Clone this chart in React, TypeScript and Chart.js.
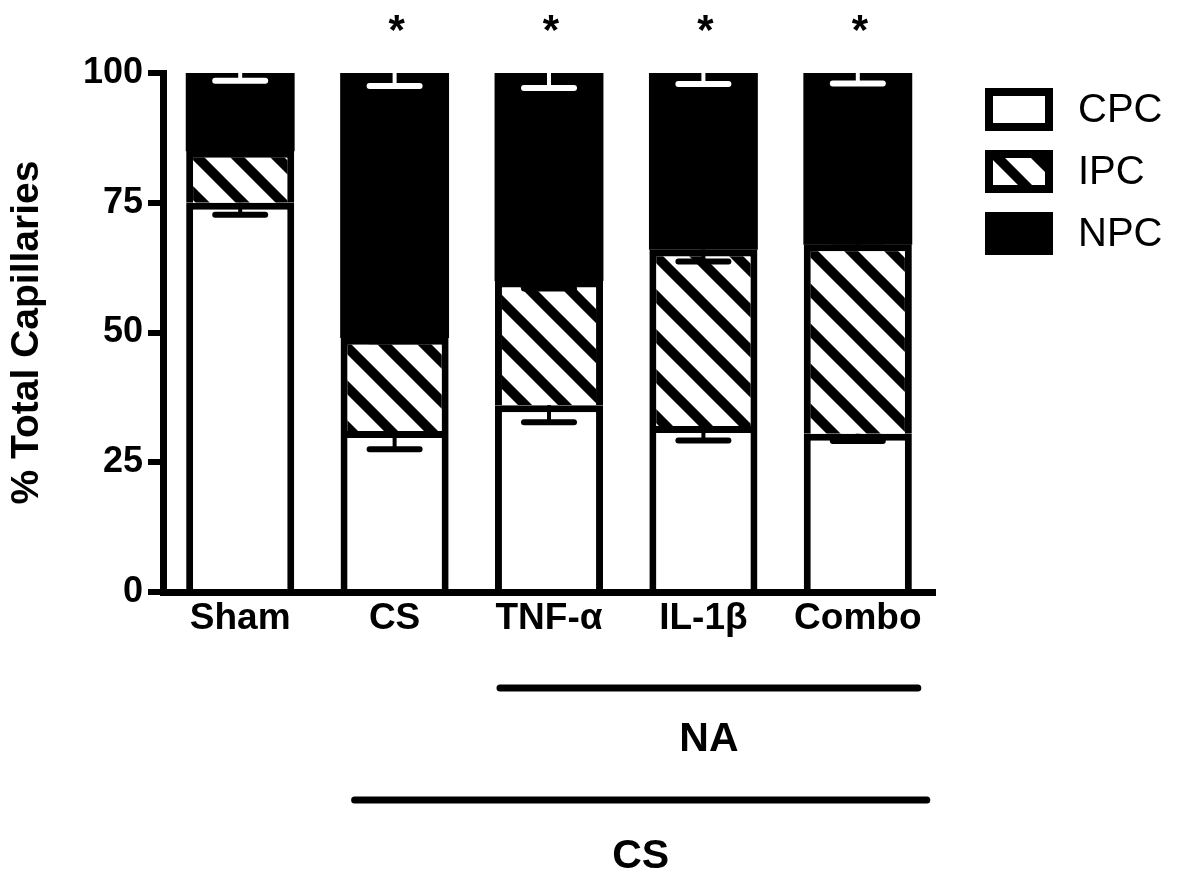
import React, { useEffect, useRef } from 'react';
import { Chart, registerables } from 'chart.js';

Chart.register(...registerables);

// ---- data ----
const categories = ['Sham', 'CS', 'TNF-α', 'IL-1β', 'Combo'];
const seriesLabels = ['CPC', 'IPC', 'NPC'];
const cpcValues = [75, 31, 36, 32, 30.5];
const ipcValues = [10, 18, 24, 34, 36.5];
const npcValues = [15, 51, 40, 34, 33];
const cpcErrors = [2.3, 3.5, 3.3, 2.8, 1.4];
const ipcErrors = [0.6, 0.7, 1.5, 2.3, 0.6];
const npcErrors = [1.5, 2.5, 2.9, 2.1, 2.0];
const significance = ['', '*', '*', '*', '*'];
const yTickStep = 25;
const yMin = 0;
const yMax = 100;
const yTitle = '% Total Capillaries';
const groupLabels = ['NA', 'CS'];
const groupStart = [2, 1];
const groupEnd = [4, 4];

const FONT = "'Liberation Sans', Arial, Helvetica, sans-serif";

function makeHatch(ctx: CanvasRenderingContext2D): CanvasPattern | string {
  const s = 40;
  const c = document.createElement('canvas');
  c.width = s;
  c.height = s;
  const g = c.getContext('2d');
  if (!g) return '#888';
  g.fillStyle = '#fff';
  g.fillRect(0, 0, s, s);
  g.strokeStyle = '#000';
  g.lineWidth = 10;
  for (let k = -1; k <= 1; k++) {
    g.beginPath();
    g.moveTo(-s, -s + k * s);
    g.lineTo(2 * s, 2 * s + k * s);
    g.stroke();
  }
  return ctx.createPattern(c, 'repeat') || '#888';
}

const errorBarPlugin = {
  id: 'errorBars',
  afterDatasetsDraw(chart: any) {
    const ctx = chart.ctx as CanvasRenderingContext2D;
    const yScale = chart.scales.y;
    const xScale = chart.scales.x;
    const seriesVals = [cpcValues, ipcValues, npcValues];
    const errs = [cpcErrors, ipcErrors, npcErrors];
    const colors = ['#000', '#000', '#fff'];
    ctx.save();
    categories.forEach((_, i) => {
      let top = 0;
      for (let d = 0; d < seriesVals.length; d++) {
        top += seriesVals[d][i];
        const x = xScale.getPixelForValue(i);
        const y0 = yScale.getPixelForValue(top);
        const y1 = yScale.getPixelForValue(top - errs[d][i]);
        ctx.strokeStyle = colors[d];
        ctx.lineCap = 'butt';
        ctx.lineWidth = 4;
        ctx.beginPath();
        ctx.moveTo(x, y0);
        ctx.lineTo(x, y1);
        ctx.stroke();
        ctx.lineCap = 'round';
        ctx.lineWidth = 6;
        ctx.beginPath();
        ctx.moveTo(x - 25, y1);
        ctx.lineTo(x + 25, y1);
        ctx.stroke();
      }
    });
    ctx.restore();
  },
};

const annotationPlugin = {
  id: 'annotations',
  afterDraw(chart: any) {
    const ctx = chart.ctx as CanvasRenderingContext2D;
    const xScale = chart.scales.x;
    ctx.save();
    ctx.fillStyle = '#000';
    // significance asterisks
    ctx.font = `bold 42px ${FONT}`;
    ctx.textAlign = 'center';
    ctx.textBaseline = 'alphabetic';
    significance.forEach((s, i) => {
      if (s) ctx.fillText(s, xScale.getPixelForValue(i) + 2, 44);
    });
    // group bars
    const lineY = [688, 800];
    const textY = [740, 857];
    const leftOff = [49, 40];
    const rightOff = [60, 69];
    groupLabels.forEach((lab, g) => {
      const x1 = xScale.getPixelForValue(groupStart[g]) - leftOff[g];
      const x2 = xScale.getPixelForValue(groupEnd[g]) + rightOff[g];
      ctx.strokeStyle = '#000';
      ctx.lineWidth = 7;
      ctx.lineCap = 'round';
      ctx.beginPath();
      ctx.moveTo(x1, lineY[g]);
      ctx.lineTo(x2, lineY[g]);
      ctx.stroke();
      ctx.font = `bold 41px ${FONT}`;
      ctx.textBaseline = 'middle';
      ctx.textAlign = 'center';
      ctx.fillText(lab, (x1 + x2) / 2, textY[g]);
    });
    // legend
    const lx = 985;
    const boxW = 68;
    const boxH = 43;
    const bw = 8;
    chart.data.datasets.forEach((ds: any, d: number) => {
      const ty = 88 + d * 62;
      ctx.fillStyle = '#000';
      ctx.fillRect(lx, ty, boxW, boxH);
      ctx.fillStyle = ds.backgroundColor;
      ctx.fillRect(lx + bw, ty + bw, boxW - 2 * bw, boxH - 2 * bw);
      ctx.fillStyle = '#000';
      ctx.font = `40px ${FONT}`;
      ctx.textAlign = 'left';
      ctx.textBaseline = 'middle';
      ctx.fillText(ds.label, 1078, ty + boxH / 2 + 1);
    });
    ctx.restore();
  },
};

export default function App() {
  const ref = useRef<HTMLCanvasElement>(null);
  useEffect(() => {
    const canvas = ref.current;
    if (!canvas) return;
    const ctx = canvas.getContext('2d');
    if (!ctx) return;
    const hatch = makeHatch(ctx);
    const chart = new Chart(ctx, {
      type: 'bar',
      data: {
        labels: categories,
        datasets: [
          {
            label: seriesLabels[0],
            data: cpcValues,
            backgroundColor: '#fff',
            borderColor: '#000',
            borderWidth: 7,
            borderSkipped: 'start',
          },
          {
            label: seriesLabels[1],
            data: ipcValues,
            backgroundColor: hatch as any,
            borderColor: '#000',
            borderWidth: 7,
            borderSkipped: 'start',
          },
          {
            label: seriesLabels[2],
            data: npcValues,
            backgroundColor: '#000',
            borderColor: '#000',
            borderWidth: 0,
            inflateAmount: 0.4,
          } as any,
        ],
      },
      options: {
        responsive: false,
        animation: false,
        devicePixelRatio: 1,
        layout: { padding: { top: 73, right: 242, left: 0, bottom: 0 } },
        datasets: { bar: { categoryPercentage: 1, barPercentage: 0.7 } } as any,
        plugins: {
          legend: { display: false },
          tooltip: { enabled: false },
        },
        scales: {
          x: {
            stacked: true,
            ticks: {
              color: '#000',
              font: { family: FONT, size: 37, weight: 'bold' },
              padding: 5,
              maxRotation: 0,
              autoSkip: false,
            },
            grid: { display: false, drawTicks: false },
            border: { display: true, color: '#000', width: 7 },
            afterFit: (s: any) => {
              s.height = 871 - 592;
            },
          },
          y: {
            stacked: true,
            min: yMin,
            max: yMax,
            ticks: {
              stepSize: yTickStep,
              color: '#000',
              font: { family: FONT, size: 36, weight: 'bold' },
              padding: 5,
            },
            grid: {
              display: true,
              drawOnChartArea: false,
              drawTicks: true,
              tickLength: 15,
              tickWidth: 6,
              lineWidth: 6,
              tickColor: '#000',
              color: '#000',
            },
            border: { display: true, color: '#000', width: 7 },
            title: {
              display: true,
              text: yTitle,
              color: '#000',
              font: { family: FONT, size: 39, weight: 'bold' },
              padding: { top: 4, bottom: 0 },
            },
            afterFit: (s: any) => {
              s.width = 163;
            },
          },
        },
      },
      plugins: [errorBarPlugin, annotationPlugin],
    });
    return () => chart.destroy();
  }, []);
  return (
    <div style={{ position: 'fixed', left: 0, top: 0, width: 1177, height: 871, background: '#fff' }}>
      <canvas ref={ref} width={1177} height={871} style={{ display: 'block' }} />
    </div>
  );
}
